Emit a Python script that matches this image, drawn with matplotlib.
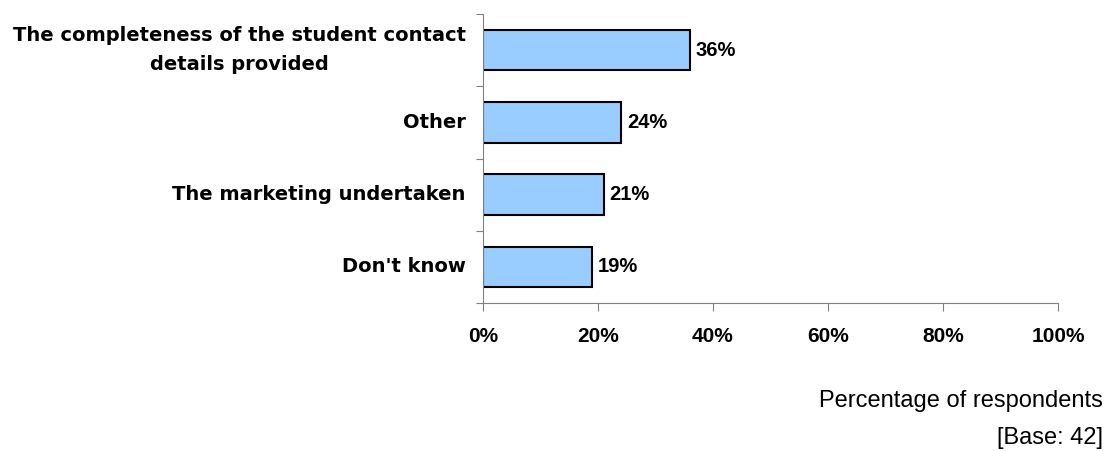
import matplotlib.pyplot as plt
from matplotlib.ticker import FuncFormatter

# Data (top to bottom)
categories = ['The completeness of the student contact\ndetails provided',
              'Other',
              'The marketing undertaken',
              "Don't know"]
values = [36, 24, 21, 19]

plt.rcParams['font.family'] = ['Liberation Sans', 'DejaVu Sans']

W, H = 1108, 451
fig = plt.figure(figsize=(W / 100, H / 100), dpi=100)
ax = fig.add_axes([483 / W, 1 - 303 / H, (1058 - 483) / W, (303 - 14) / H])

pos = list(range(len(categories)))
ax.barh(pos, values, height=0.56, color='#99ccff', edgecolor='black', linewidth=1.5)
for p, v in zip(pos, values):
    ax.text(v + 1.0, p, f'{v}%', va='center', ha='left', fontsize=14.5, fontweight='bold')

ax.set_xlim(0, 100)
ax.set_ylim(len(categories) - 0.5, -0.5)
ax.set_xticks([0, 20, 40, 60, 80, 100])
ax.xaxis.set_major_formatter(FuncFormatter(lambda x, _: f'{int(x)}%'))
ax.set_yticks([p - 0.5 for p in pos] + [len(categories) - 0.5])
ax.set_yticklabels([])
for p, c in zip(pos, categories):
    ax.text(-0.03, p, c, transform=ax.get_yaxis_transform(), ha='right', va='center',
            fontsize=14, fontweight='bold', family='DejaVu Sans',
            multialignment='center', linespacing=1.65)

for lab in ax.get_xticklabels():
    lab.set_fontweight('bold')
    lab.set_fontsize(15)
ax.tick_params(axis='x', length=6, color='#808080', pad=11)
ax.tick_params(axis='y', length=5, color='#808080')

ax.spines['top'].set_visible(False)
ax.spines['right'].set_visible(False)
ax.spines['left'].set_color('#808080')
ax.spines['bottom'].set_color('#808080')

fig.text(1103 / W, 1 - 401 / H, 'Percentage of respondents', ha='right', va='center', fontsize=17)
fig.text(1103 / W, 1 - 438 / H, '[Base: 42]', ha='right', va='center', fontsize=17)

plt.savefig('out.png', dpi=100)
